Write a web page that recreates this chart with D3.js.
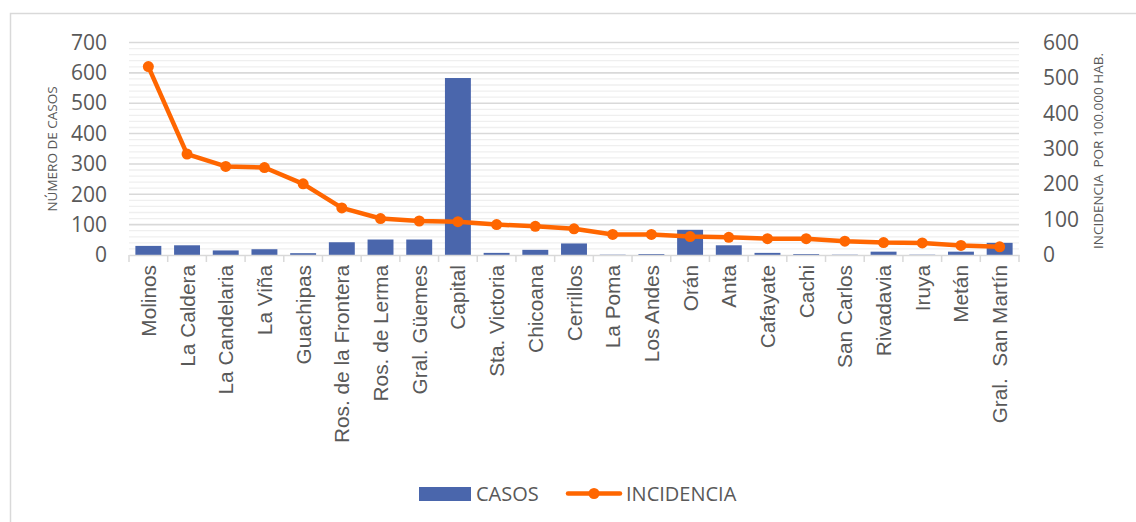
<!DOCTYPE html>
<html>

<head>
    <style>
        body {
            margin: 0;
            background: #fff;
            font-family: "Open Sans", sans-serif;
        }
    </style>
    <script src="https://d3js.org/d3.v7.min.js"></script>
</head>

<body>
    <svg width="1136" height="522"></svg>

    <script>
        var departamentos = ["Molinos", "La Caldera", "La Candelaria", "La Viña", "Guachipas",
            "Ros. de la Frontera", "Ros. de Lerma", "Gral. Güemes", "Capital", "Sta. Victoria",
            "Chicoana", "Cerrillos", "La Poma", "Los Andes", "Orán", "Anta", "Cafayate", "Cachi",
            "San Carlos", "Rivadavia", "Iruya", "Metán", "Gral.  San Martín"];
        var casos = [30, 32, 15, 19, 6, 42, 51, 51, 583, 7, 17, 38, 1, 3, 83, 32, 7, 3, 1, 11, 1, 11, 40];
        var incidencia = [532, 285, 250, 247, 201, 133, 103, 96, 94, 86, 81, 74, 58, 58, 52, 50, 46, 46, 39, 35, 34, 27, 23];
        var ticksCasos = [0, 100, 200, 300, 400, 500, 600, 700];
        var ticksIncidencia = [0, 100, 200, 300, 400, 500, 600];

        var svg = d3.select("svg");
        var gris = "#595959";

        // marco del grafico
        svg.append("rect")
            .attr("x", 10.5).attr("y", 13.5)
            .attr("width", 1200).attr("height", 600)
            .attr("fill", "none").attr("stroke", "#d9d9d9").attr("stroke-width", 1.5);

        var x = d3.scaleBand().domain(departamentos).range([129, 1019]).paddingInner(0.33).paddingOuter(0.165);
        var yL = d3.scaleLinear().domain([0, 700]).range([255, 42.5]);
        var yR = d3.scaleLinear().domain([0, 600]).range([255, 42.5]);

        // lineas de cuadricula
        var menores = d3.range(0, 701, 20).filter(function (v) { return v % 100 != 0; });
        svg.append("g").selectAll("line").data(menores).enter().append("line")
            .attr("x1", 129).attr("x2", 1019)
            .attr("y1", function (d) { return yL(d); }).attr("y2", function (d) { return yL(d); })
            .attr("stroke", "#efefef").attr("stroke-width", 1.3);
        svg.append("g").selectAll("line").data(ticksCasos.slice(1)).enter().append("line")
            .attr("x1", 129).attr("x2", 1019)
            .attr("y1", function (d) { return yL(d); }).attr("y2", function (d) { return yL(d); })
            .attr("stroke", "#d9d9d9").attr("stroke-width", 1.6);

        // barras
        svg.append("g").selectAll("rect").data(casos).enter().append("rect")
            .attr("x", function (d, i) { return x(departamentos[i]); })
            .attr("width", x.bandwidth())
            .attr("y", function (d) { return yL(d); })
            .attr("height", function (d) { return yL(0) - yL(d); })
            .attr("fill", "#4a66ac");

        // eje x
        var ejeX = svg.append("g").attr("transform", "translate(0,255)")
            .call(d3.axisBottom(x).tickSize(0).tickFormat(""));
        ejeX.select(".domain").attr("stroke", "#d9d9d9").attr("stroke-width", 1.5);
        var bordes = d3.range(0, departamentos.length + 1).map(function (i) { return 129 + i * (1019 - 129) / departamentos.length; });
        ejeX.selectAll("line.sep").data(bordes).enter().append("line")
            .attr("class", "sep")
            .attr("x1", function (d) { return d; }).attr("x2", function (d) { return d; })
            .attr("y1", 0).attr("y2", 7)
            .attr("stroke", "#d9d9d9").attr("stroke-width", 1.5);
        ejeX.selectAll("text.cat").data(departamentos).enter().append("text")
            .attr("class", "cat")
            .attr("transform", function (d) { return "translate(" + (x(d) + x.bandwidth() / 2 + 7.5) + ",10) rotate(-90)"; })
            .attr("text-anchor", "end")
            .attr("fill", gris)
            .style("font-size", "20.8px")
            .style("white-space", "pre")
            .text(function (d) { return d; });

        // eje izquierdo
        var ejeL = svg.append("g").attr("transform", "translate(107,0)")
            .call(d3.axisLeft(yL).tickValues(ticksCasos).tickSize(0).tickPadding(0));
        ejeL.select(".domain").remove();
        ejeL.selectAll("text").attr("fill", gris).style("font-size", "21px").style("font-family", "Open Sans");

        // eje derecho
        var ejeR = svg.append("g").attr("transform", "translate(1043,0)")
            .call(d3.axisRight(yR).tickValues(ticksIncidencia).tickSize(0).tickPadding(0));
        ejeR.select(".domain").remove();
        ejeR.selectAll("text").attr("fill", gris).style("font-size", "21px").style("font-family", "Open Sans");

        // titulos de ejes
        svg.append("text")
            .attr("transform", "translate(57,149) rotate(-90)")
            .attr("text-anchor", "middle").attr("fill", gris)
            .style("font-size", "13.5px")
            .text("NÚMERO DE CASOS");
        svg.append("text")
            .attr("transform", "translate(1103,151) rotate(-90)")
            .attr("text-anchor", "middle").attr("fill", gris)
            .style("font-size", "13.5px")
            .style("white-space", "pre")
            .text("INCIDENCIA  POR 100.000 HAB.");

        // linea de incidencia
        var linea = d3.line()
            .x(function (d, i) { return x(departamentos[i]) + x.bandwidth() / 2; })
            .y(function (d) { return yR(d); });
        svg.append("path").datum(incidencia)
            .attr("d", linea)
            .attr("fill", "none").attr("stroke", "#ff6600").attr("stroke-width", 4.5)
            .attr("stroke-linejoin", "round");
        svg.append("g").selectAll("circle").data(incidencia).enter().append("circle")
            .attr("cx", function (d, i) { return x(departamentos[i]) + x.bandwidth() / 2; })
            .attr("cy", function (d) { return yR(d); })
            .attr("r", 5.5)
            .attr("fill", "#ff6600");

        // leyenda
        var ley = svg.append("g");
        ley.append("rect").attr("x", 419).attr("y", 487).attr("width", 52).attr("height", 14).attr("fill", "#4a66ac");
        ley.append("text").attr("x", 476).attr("y", 501).attr("fill", gris).style("font-size", "20px").text("CASOS");
        ley.append("line").attr("x1", 568).attr("x2", 620).attr("y1", 493.5).attr("y2", 493.5)
            .attr("stroke", "#ff6600").attr("stroke-width", 4.5).attr("stroke-linecap", "round");
        ley.append("circle").attr("cx", 594).attr("cy", 493.5).attr("r", 5.5).attr("fill", "#ff6600");
        ley.append("text").attr("x", 626).attr("y", 501).attr("fill", gris).style("font-size", "20px").text("INCIDENCIA");
    </script>

</body>

</html>
